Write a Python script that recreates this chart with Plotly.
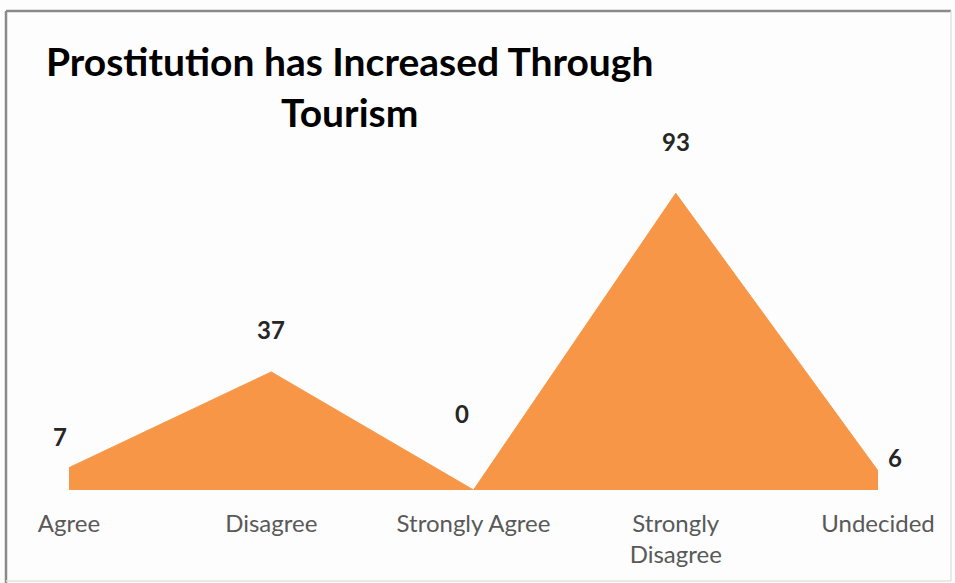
import plotly.graph_objects as go

# Survey responses
categories = ["Agree", "Disagree", "Strongly Agree", "Strongly Disagree", "Undecided"]
tick_text = ["Agree", "Disagree", "Strongly Agree", "Strongly<br>Disagree", "Undecided"]
values = [7, 37, 0, 93, 6]

# Per-label nudges (pixels) for the data labels
label_dx = [-9, 0, -12, 0, 17]
label_dy = [31, 42, 77, 52, 13]

W, H = 955, 583
ML, MR, MT, MB = 69, 77, 171, 93
PW, PH = W - ML - MR, H - MT - MB

def px_x(px):
    return (px - ML) / PW

def px_y(py):
    return (H - MB - py) / PH

orange = "#F79646"
font_family = "Lato, 'Open Sans', sans-serif"

x_idx = list(range(len(categories)))

fig = go.Figure()
fig.add_trace(go.Scatter(
    x=x_idx, y=values, mode="lines", fill="tozeroy",
    fillcolor=orange, line=dict(color=orange, width=1),
    hoverinfo="skip", showlegend=False,
))

for i, v in enumerate(values):
    fig.add_annotation(
        x=i, y=v, text=f"<b>{v}</b>", showarrow=False,
        xshift=label_dx[i], yshift=label_dy[i],
        font=dict(family=font_family, size=24, color="#262626"),
    )

# Chart title
fig.add_annotation(
    xref="paper", yref="paper", x=px_x(349), y=px_y(86),
    text="<b>Prostitution has Increased Through<br>Tourism</b>",
    showarrow=False, align="center", xanchor="center", yanchor="middle",
    font=dict(family=font_family, size=39, color="#000000"),
)

# Outer chart frame: darker top/left edges, faint right/bottom edges
frame = [
    (6, 11, 951, 11, "#8a8a8a", 2.5),
    (6, 11, 6, 583, "#8a8a8a", 2.5),
    (951, 11, 951, 581, "#e2e2e2", 1.5),
    (6, 581, 951, 581, "#e2e2e2", 1.5),
]
for x0, y0, x1, y1, col, w in frame:
    fig.add_shape(
        type="line", xref="paper", yref="paper",
        x0=px_x(x0), x1=px_x(x1), y0=px_y(y0), y1=px_y(y1),
        line=dict(color=col, width=w), layer="below",
    )

fig.update_layout(
    width=W, height=H,
    margin=dict(l=ML, r=MR, t=MT, b=MB),
    paper_bgcolor="#fdfdfd", plot_bgcolor="#fdfdfd",
    xaxis=dict(
        range=[0, len(categories) - 1], tickvals=x_idx, ticktext=tick_text,
        showgrid=False, zeroline=False, showline=False, ticks="",
        tickfont=dict(family=font_family, size=24, color="#595959"),
        ticklabelstandoff=17,
    ),
    yaxis=dict(range=[0, 100], visible=False, showgrid=False, zeroline=False),
)

fig.write_html("out.html")
